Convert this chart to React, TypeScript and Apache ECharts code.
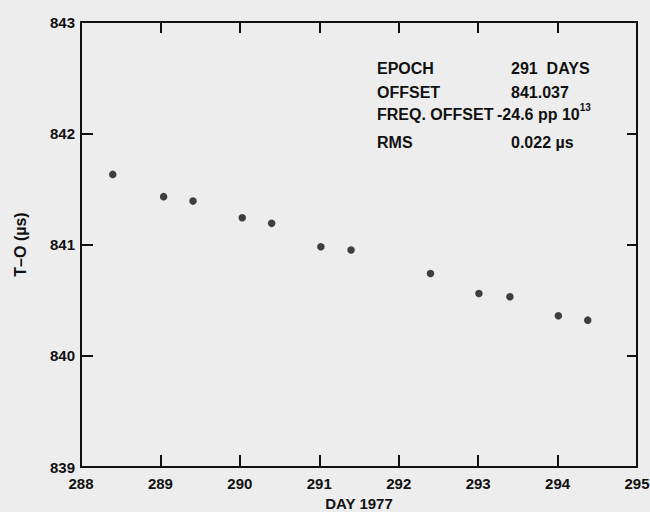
import React, { useEffect, useRef } from "react";
import * as echarts from "echarts";

const days = [288.4, 289.04, 289.41, 290.03, 290.4, 291.02, 291.4, 292.4, 293.01, 293.4, 294.01, 294.38];
const values = [841.63, 841.43, 841.39, 841.24, 841.19, 840.98, 840.95, 840.74, 840.56, 840.53, 840.36, 840.32];

const xName = "DAY 1977";
const yName = "T–O (µs)";
const infoLabels = ["EPOCH", "OFFSET", "FREQ. OFFSET", "RMS"];
const infoValues = ["291  DAYS", "841.037", "-24.6 pp 10{s|13}", "0.022 µs"];

const INK = "#111111";
const FONT = "'Liberation Sans', Arial, Helvetica, sans-serif";

export default function App() {
  const ref = useRef<HTMLDivElement>(null);
  useEffect(() => {
    if (!ref.current) return;
    const chart = echarts.init(ref.current, null, { renderer: "svg" });
    const axisCommon = {
      type: "value" as const,
      axisLine: { show: true, lineStyle: { color: INK, width: 2 } },
      splitLine: { show: false },
    };
    const labelStyle = { color: INK, fontSize: 15, fontWeight: "bold" as const, fontFamily: FONT };
    const rowsY = [69.5, 93, 115, 143.5];
    const graphics: any[] = [];
    infoLabels.forEach((t, i) => {
      graphics.push({
        type: "text",
        left: 377,
        top: rowsY[i] - 9,
        style: { text: t, fill: INK, font: `bold 16px ${FONT}` },
      });
    });
    infoValues.forEach((t, i) => {
      graphics.push({
        type: "text",
        left: i === 2 ? 497 : 511,
        top: rowsY[i] - (i === 2 ? 13 : 9),
        style: {
          text: i === 2 ? `{n|${t.replace("{s|13}", "")}}{s|13}` : t,
          fill: INK,
          font: `bold 16px ${FONT}`,
          rich: i === 2
            ? {
                n: { fontSize: 16, fontWeight: "bold", fontFamily: FONT, fill: INK, lineHeight: 24, verticalAlign: "middle" },
                s: { fontSize: 10, fontWeight: "bold", fontFamily: FONT, fill: INK, lineHeight: 12, verticalAlign: "top" },
              }
            : undefined,
        },
      });
    });
    chart.setOption({
      animation: false,
      backgroundColor: "#ededed",
      grid: { left: 81, right: 13, top: 22, bottom: 45, containLabel: false, outerBoundsMode: "none" },
      xAxis: [
        {
          ...axisCommon,
          position: "bottom",
          min: 288,
          max: 295,
          interval: 1,
          name: xName,
          nameLocation: "middle",
          nameGap: 27,
          nameTextStyle: { color: INK, fontSize: 15, fontWeight: "bold", fontFamily: FONT },
          axisTick: { show: true, inside: true, length: 12, lineStyle: { color: INK, width: 2 } },
          axisLabel: { ...labelStyle, margin: 9 },
        },
        {
          ...axisCommon,
          position: "top",
          min: 288,
          max: 295,
          interval: 1,
          axisTick: { show: true, inside: true, length: 11, lineStyle: { color: INK, width: 2 } },
          axisLabel: { show: false },
        },
      ],
      yAxis: [
        {
          ...axisCommon,
          position: "left",
          min: 839,
          max: 843,
          interval: 1,
          name: yName,
          nameLocation: "middle",
          nameRotate: 90,
          nameGap: 53,
          nameTextStyle: { color: INK, fontSize: 16, fontWeight: "bold", fontFamily: FONT },
          axisTick: { show: true, inside: true, length: 12, lineStyle: { color: INK, width: 2 } },
          axisLabel: { ...labelStyle, margin: 6 },
        },
        {
          ...axisCommon,
          position: "right",
          min: 839,
          max: 843,
          interval: 1,
          axisTick: { show: true, inside: true, length: 10, lineStyle: { color: INK, width: 2 } },
          axisLabel: { show: false },
        },
      ],
      series: [
        {
          type: "scatter",
          xAxisIndex: 0,
          yAxisIndex: 0,
          symbol: "circle",
          symbolSize: 7.5,
          itemStyle: { color: INK },
          data: days.map((d, i) => [d, values[i]]),
        },
      ],
      graphic: graphics,
    });
    return () => chart.dispose();
  }, []);
  return (
    <div
      ref={ref}
      style={{ position: "fixed", left: 0, top: 0, width: 650, height: 512 }}
    />
  );
}
